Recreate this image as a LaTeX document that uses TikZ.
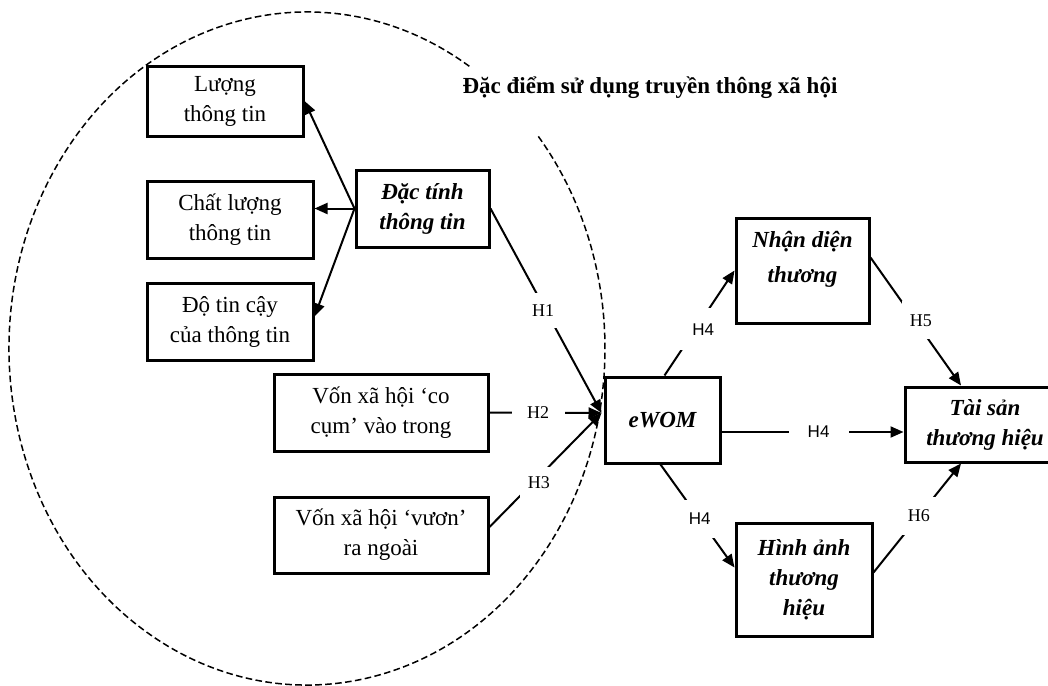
\documentclass[tikz,border=0pt]{standalone}
\usepackage{fontspec}
\setmainfont{Liberation Serif}
\setsansfont{Liberation Sans}
\usetikzlibrary{arrows.meta,calc}
\begin{document}
\begin{tikzpicture}[x=0.5pt,y=-0.5pt,
  rbox/.style={draw, line width=1.5pt, inner sep=0pt, align=center, font=\fontsize{11.5}{15}\selectfont},
  bibox/.style={rbox, font=\fontsize{11.5}{15}\selectfont\bfseries\itshape},
  conn/.style={line width=1pt, -{Triangle[length=6.5pt,width=5.5pt]}},
  hlab/.style={fill=white, font=\fontsize{9}{10}\selectfont, inner xsep=4pt, inner ysep=5.5pt},
  hlabs/.style={hlab, font=\sffamily\fontsize{8.5}{10}\selectfont},
  ell/.style={line width=0.75pt, dash pattern=on 3.3pt off 1.7pt}
]
\fill[white] (0,0) rectangle (1048,685);
\useasboundingbox (0,0) rectangle (1048,685);

% dashed ellipse with a gap behind the title
\coordinate (C) at (307,348.5);
\draw[ell] ([shift={(57:149pt and 168.25pt)}]C) arc[start angle=57, end angle=399.3, x radius=149pt, y radius=168.25pt];

% nodes
\node[rbox, minimum width=78pt, minimum height=35pt] (luong) at (225,101) {Lượng\\thông tin};
\node[rbox, minimum width=83pt, minimum height=38.5pt] (chat) at (230,219.5) {Chất lượng\\thông tin};
\node[rbox, minimum width=83pt, minimum height=38.5pt] (dotin) at (230,321.5) {Độ tin cậy\\của thông tin};
\node[bibox, minimum width=66.5pt, minimum height=38.5pt] (dactinh) at (422.5,208.5) {Đặc tính\\thông tin};
\node[rbox, minimum width=107pt, minimum height=38.5pt] (von1) at (381,412.5) {Vốn xã hội ‘co\\cụm’ vào trong};
\node[rbox, minimum width=107pt, minimum height=38pt] (von2) at (381,535) {Vốn xã hội ‘vươn’\\ra ngoài};
\node[bibox, minimum width=57.5pt, minimum height=43pt] (ewom) at (662.5,420) {eWOM};
\node[bibox, minimum width=66.5pt, minimum height=52.5pt, font=\fontsize{11.5}{17.5}\selectfont\bfseries\itshape, text depth=14pt] (nhan) at (802.5,270.5) {Nhận diện\\thương};
\node[bibox, minimum width=80pt, minimum height=37.5pt] (taisan) at (985,424.5) {Tài sản\\thương hiệu};
\node[bibox, minimum width=68pt, minimum height=56.5pt] (hinh) at (804,579.5) {Hình ảnh\\thương\\hiệu};
\node[font=\fontsize{11.5}{15}\selectfont\bfseries] (title) at (650,88) {Đặc điểm sử dụng truyền thông xã hội};

% helper coordinates
\coordinate (conv) at ($(ewom.west)+(-2,-7)$);
\coordinate (m1) at ($(ewom.east)+(0,12)$);

% connectors
\draw[conn] (dactinh.west) -- (luong.east);
\draw[conn] (dactinh.west) -- (dactinh.west -| chat.east);
\draw[conn] (dactinh.west) -- ($(dotin.east)+(0,-5)$);
\draw[conn] (dactinh.east) -- node[hlab, pos=.5, xshift=-1.5pt, inner xsep=3pt, inner ysep=5.75pt]{H1} (conv);
\draw[conn] (von1.east) -- node[hlab, pos=.435, inner xsep=7.75pt, inner ysep=3pt]{H2} (conv);
\draw[conn] ($(von2.east)+(0,-8)$) -- node[hlab, pos=.44, yshift=-3pt, inner xsep=4pt, inner ysep=5pt]{H3} (conv);
\draw[conn] ($(ewom.north)+(2,0)$) -- node[hlabs, pos=.44, xshift=4pt, inner xsep=6pt, inner ysep=7.5pt]{H4} (nhan.west);
\draw[conn] ($(ewom.south)+(-2,0)$) -- node[hlabs, pos=.53, inner xsep=4pt, inner ysep=6.5pt]{H4} ($(hinh.west)+(0,-12)$);
\draw[conn] (m1) -- node[hlabs, pos=.55, xshift=-1.5pt, inner xsep=9.6pt, inner ysep=3pt]{H4} (m1 -| taisan.west);
\draw[conn] ($(nhan.east)+(0,-13)$) -- node[hlab, pos=.49, xshift=3pt, inner xsep=4pt, inner ysep=6.5pt]{H5} ($(taisan.north)+(-24,0)$);
\draw[conn] ($(hinh.east)+(0,-7)$) -- node[hlab, pos=.518, inner xsep=4pt, inner ysep=6.5pt]{H6} ($(taisan.south)+(-24,0)$);
\end{tikzpicture}
\end{document}
